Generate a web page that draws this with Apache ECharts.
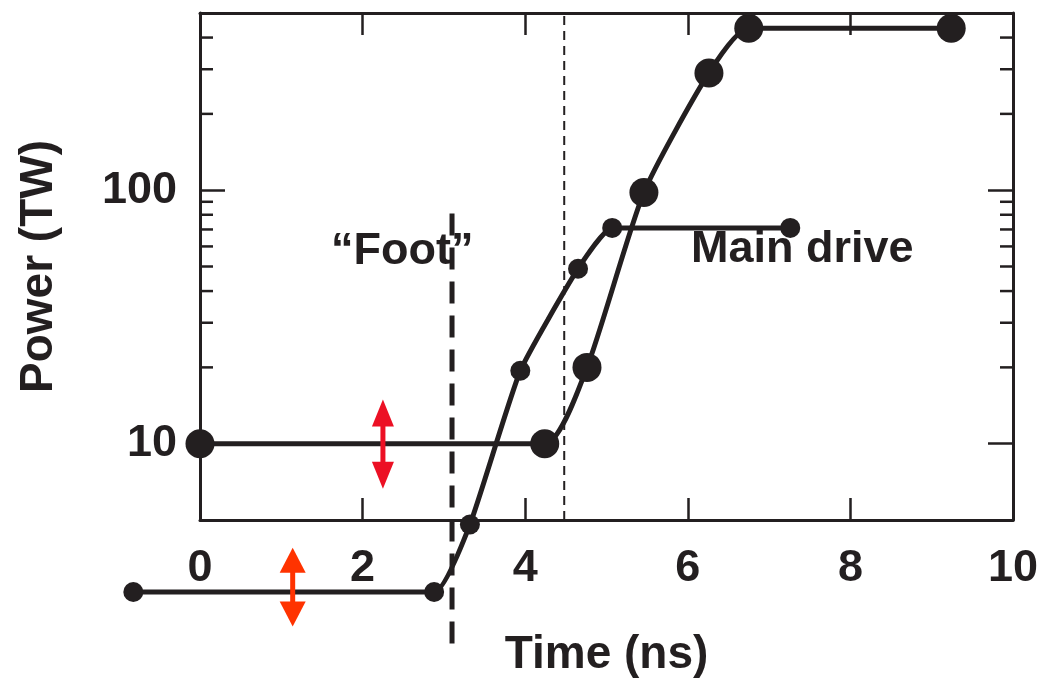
<!DOCTYPE html>
<html>
<head>
<meta charset="utf-8">
<script src="https://cdn.jsdelivr.net/npm/echarts@6/dist/echarts.min.js"></script>
<style>
  html, body { margin: 0; padding: 0; background: #fff; }
  #chart { width: 1045px; height: 678px; }
</style>
</head>
<body>
<div id="chart"></div>
<script>
// main drive pulse (big dots)
const mainTime = [0, 4.24, 4.76, 5.46, 6.26, 6.75, 9.24];
const mainPower = [10, 10, 20, 98, 290, 435, 435];
// foot pulse (small dots)
const footTime = [-0.82, 2.88, 3.32, 3.94, 4.65, 5.07, 7.26];
const footPower = [2.6, 2.6, 4.8, 19.4, 49, 71, 71];
// vertical markers
const footLineTime = [3.1, 3.1];
const footLinePower = [81, 1.5];
const driveLineTime = [4.48, 4.48];
const driveLinePower = [5, 500];
// double arrows
const redArrowTime = [2.25, 2.25];
const redArrowPower = [13.2, 7.5];
const orangeArrowTime = [1.14, 1.14];
const orangeArrowPower = [3.47, 2.13];
// axes
const xTicks = [0, 2, 4, 6, 8, 10];
const yLabels = [10, 100];
const yMinorTicks = [20, 30, 40, 50, 60, 70, 80, 90, 200, 300, 400];

const ink = "#231f20";
const font = "'Liberation Sans', Arial, sans-serif";

// main grid box
const W = 1045, H = 678;
const gLeft = 200, gRight = 32, gTop = 13, gBottom = 158;
const yMin = 5, yMax = 500;
// overlay grid (foot pulse reaches past the main frame), same scales
const xMin2 = -2, yMin2 = 2;
const pxPerX = (W - gLeft - gRight) / (xTicks[xTicks.length - 1] - xTicks[0]);
const pxPerDecade = (H - gTop - gBottom) / Math.log10(yMax / yMin);
const g2Left = gLeft - (xTicks[0] - xMin2) * pxPerX;
const g2Bottom = H - gTop - pxPerDecade * Math.log10(yMax / yMin2);

function pairs(xs, ys) {
  return xs.map((x, i) => [x, ys[i]]);
}

function arrowData(xs, ys) {
  return [
    { value: [xs[0], ys[0]], symbolRotate: 0 },
    { value: [xs[1], ys[1]], symbolRotate: 180 },
  ];
}

const myChart = echarts.init(document.getElementById("chart"));

const frameLine = { show: true, onZero: false, lineStyle: { color: ink, width: 3 } };

const option = {
  animation: false,
  grid: [
    { left: gLeft, right: gRight, top: gTop, bottom: gBottom, outerBoundsMode: "none", containLabel: false },
    { left: g2Left, right: gRight, top: gTop, bottom: g2Bottom, outerBoundsMode: "none", containLabel: false },
  ],
  xAxis: [
    {
      type: "value",
      min: xTicks[0],
      max: xTicks[xTicks.length - 1],
      interval: 2,
      name: "Time (ns)",
      nameLocation: "middle",
      nameGap: 112,
      nameTextStyle: { fontSize: 46, fontWeight: "bold", color: ink, fontFamily: font },
      axisLine: frameLine,
      axisTick: { show: true, inside: true, length: 22, lineStyle: { color: ink, width: 2.5 } },
      axisLabel: { margin: 26, fontSize: 45, fontWeight: "bold", color: ink, fontFamily: font },
      splitLine: { show: false },
    },
    {
      type: "value",
      position: "top",
      min: xTicks[0],
      max: xTicks[xTicks.length - 1],
      interval: 2,
      axisLine: frameLine,
      axisTick: { show: true, inside: true, length: 22, lineStyle: { color: ink, width: 2.5 } },
      axisLabel: { show: false },
      splitLine: { show: false },
    },
    {
      type: "value",
      gridIndex: 1,
      min: xMin2,
      max: xTicks[xTicks.length - 1],
      show: false,
    },
  ],
  yAxis: [
    {
      type: "log",
      logBase: 10,
      min: yMin,
      max: yMax,
      name: "Power (TW)",
      nameLocation: "middle",
      nameGap: 138,
      nameTextStyle: { fontSize: 46, fontWeight: "bold", color: ink, fontFamily: font },
      axisLine: frameLine,
      axisTick: { show: true, inside: true, length: 25, lineStyle: { color: ink, width: 2.5 } },
      axisLabel: {
        margin: 23,
        fontSize: 45,
        fontWeight: "bold",
        color: ink,
        fontFamily: font,
        formatter: function (v) {
          const r = Math.round(v);
          return yLabels.indexOf(r) >= 0 ? String(r) : "";
        },
      },
      splitLine: { show: false },
    },
    {
      type: "log",
      logBase: 10,
      min: yMin,
      max: yMax,
      position: "right",
      axisLine: frameLine,
      axisTick: { show: true, inside: true, length: 25, lineStyle: { color: ink, width: 2.5 } },
      axisLabel: { show: false },
      splitLine: { show: false },
    },
    {
      type: "log",
      logBase: 10,
      gridIndex: 1,
      min: yMin2,
      max: yMax,
      show: false,
    },
  ],
  series: [
    {
      // minor log ticks on both sides
      type: "custom",
      silent: true,
      data: yMinorTicks.map((v) => [1, v]),
      renderItem: function (params, api) {
        const cs = params.coordSys;
        const y = api.coord([api.value(0), api.value(1)])[1];
        const style = { stroke: ink, lineWidth: 2.5 };
        return {
          type: "group",
          children: [
            { type: "line", shape: { x1: cs.x, y1: y, x2: cs.x + 13, y2: y }, style: style },
            { type: "line", shape: { x1: cs.x + cs.width, y1: y, x2: cs.x + cs.width - 13, y2: y }, style: style },
          ],
        };
      },
    },
    {
      type: "line",
      data: pairs(driveLineTime, driveLinePower),
      symbol: "none",
      clip: false,
      silent: true,
      lineStyle: { color: ink, width: 2, type: [9, 6] },
    },
    {
      type: "line",
      data: pairs(footLineTime, footLinePower),
      symbol: "none",
      clip: false,
      silent: true,
      lineStyle: { color: ink, width: 5, type: [22, 12] },
    },
    {
      name: "Foot",
      type: "line",
      xAxisIndex: 2,
      yAxisIndex: 2,
      data: pairs(footTime, footPower),
      smooth: 0.15,
      clip: false,
      symbol: "circle",
      symbolSize: 20,
      itemStyle: { color: ink },
      lineStyle: { color: ink, width: 5 },
    },
    {
      name: "Main drive",
      type: "line",
      data: pairs(mainTime, mainPower),
      smooth: 0.2,
      clip: false,
      symbol: "circle",
      symbolSize: 29,
      itemStyle: { color: ink },
      lineStyle: { color: ink, width: 5 },
    },
    {
      type: "line",
      data: arrowData(redArrowTime, redArrowPower),
      clip: false,
      silent: true,
      symbol: "triangle",
      symbolSize: [22, 27],
      itemStyle: { color: "#ec1024" },
      lineStyle: { color: "#ec1024", width: 5 },
    },
    {
      type: "line",
      data: arrowData(orangeArrowTime, orangeArrowPower),
      clip: false,
      silent: true,
      symbol: "triangle",
      symbolSize: [26, 25],
      itemStyle: { color: "#ff3300" },
      lineStyle: { color: "#ff3300", width: 5 },
    },
  ],
  graphic: [
    {
      type: "text",
      left: 331,
      top: 229,
      style: { text: "\u201cFoot\u201d", font: "bold 45px " + font, fill: ink },
    },
    {
      type: "text",
      left: 691,
      top: 227,
      style: { text: "Main drive", font: "bold 45px " + font, fill: ink },
    },
  ],
};

myChart.setOption(option);
window.addEventListener("resize", function () {
  myChart.resize();
});
</script>
</body>
</html>
